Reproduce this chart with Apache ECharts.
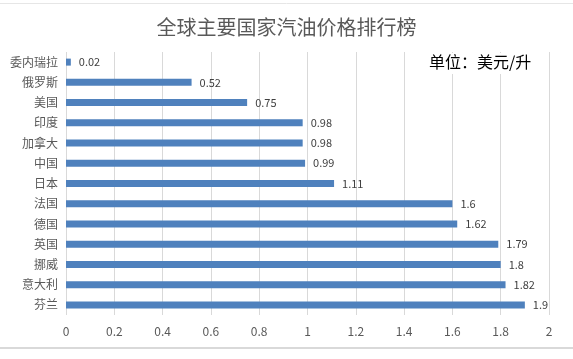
<!DOCTYPE html>
<html><head><meta charset="utf-8">
<script src="https://cdn.jsdelivr.net/npm/echarts@6/dist/echarts.min.js"></script>
<style>html,body{margin:0;padding:0;background:#fff}#c{width:573px;height:359px}</style>
</head><body><div id="c"></div>
<script>
const categories = ['委内瑞拉','俄罗斯','美国','印度','加拿大','中国','日本','法国','德国','英国','挪威','意大利','芬兰'];
const prices = [0.02,0.52,0.75,0.98,0.98,0.99,1.11,1.6,1.62,1.79,1.8,1.82,1.9];
const xTicks = {min:0, max:2, interval:0.2};
const chart = echarts.init(document.getElementById('c'));
const font = '"Noto Sans CJK SC","Microsoft YaHei",sans-serif';
chart.setOption({
  animation:false,
  title:{text:'全球主要国家汽油价格排行榜', left:'center', top:12,
    textStyle:{fontSize:20, fontWeight:'normal', color:'#595959', fontFamily:font}},
  grid:{left:66, right:24, top:52, bottom:44, containLabel:false},
  xAxis:{type:'value', min:xTicks.min, max:xTicks.max, interval:xTicks.interval,
    axisLine:{show:false}, axisTick:{show:false},
    splitLine:{lineStyle:{color:'#d9d9d9'}},
    axisLabel:{color:'#595959', fontSize:12, fontFamily:font, margin:10,
      formatter:v=>String(Math.round(v*10)/10)}},
  yAxis:{type:'category', data:categories, inverse:true,
    axisLine:{show:false}, axisTick:{show:false},
    axisLabel:{color:'#595959', fontSize:12, fontFamily:font, margin:8}},
  series:[{type:'bar', data:prices, barWidth:7,
    itemStyle:{color:'#4F81BD'},
    label:{show:true, position:'right', distance:8, color:'#404040', fontSize:11, fontFamily:font}}],
  graphic:[
    {type:'rect', left:426, top:53, z:100, shape:{width:110, height:21}, style:{fill:'#fff'}},
    {type:'text', left:429, top:54, z:101,
      style:{text:'单位：美元/升', fontSize:16, fill:'#000', fontFamily:font}},
    {type:'line', z:100, shape:{x1:0, y1:348, x2:573, y2:348}, style:{stroke:'#d9d9d9', lineWidth:2}},
    {type:'line', z:100, shape:{x1:0, y1:3.5, x2:573, y2:3.5}, style:{stroke:'#e6e6e6', lineWidth:1}}
  ]
});
</script></body></html>
